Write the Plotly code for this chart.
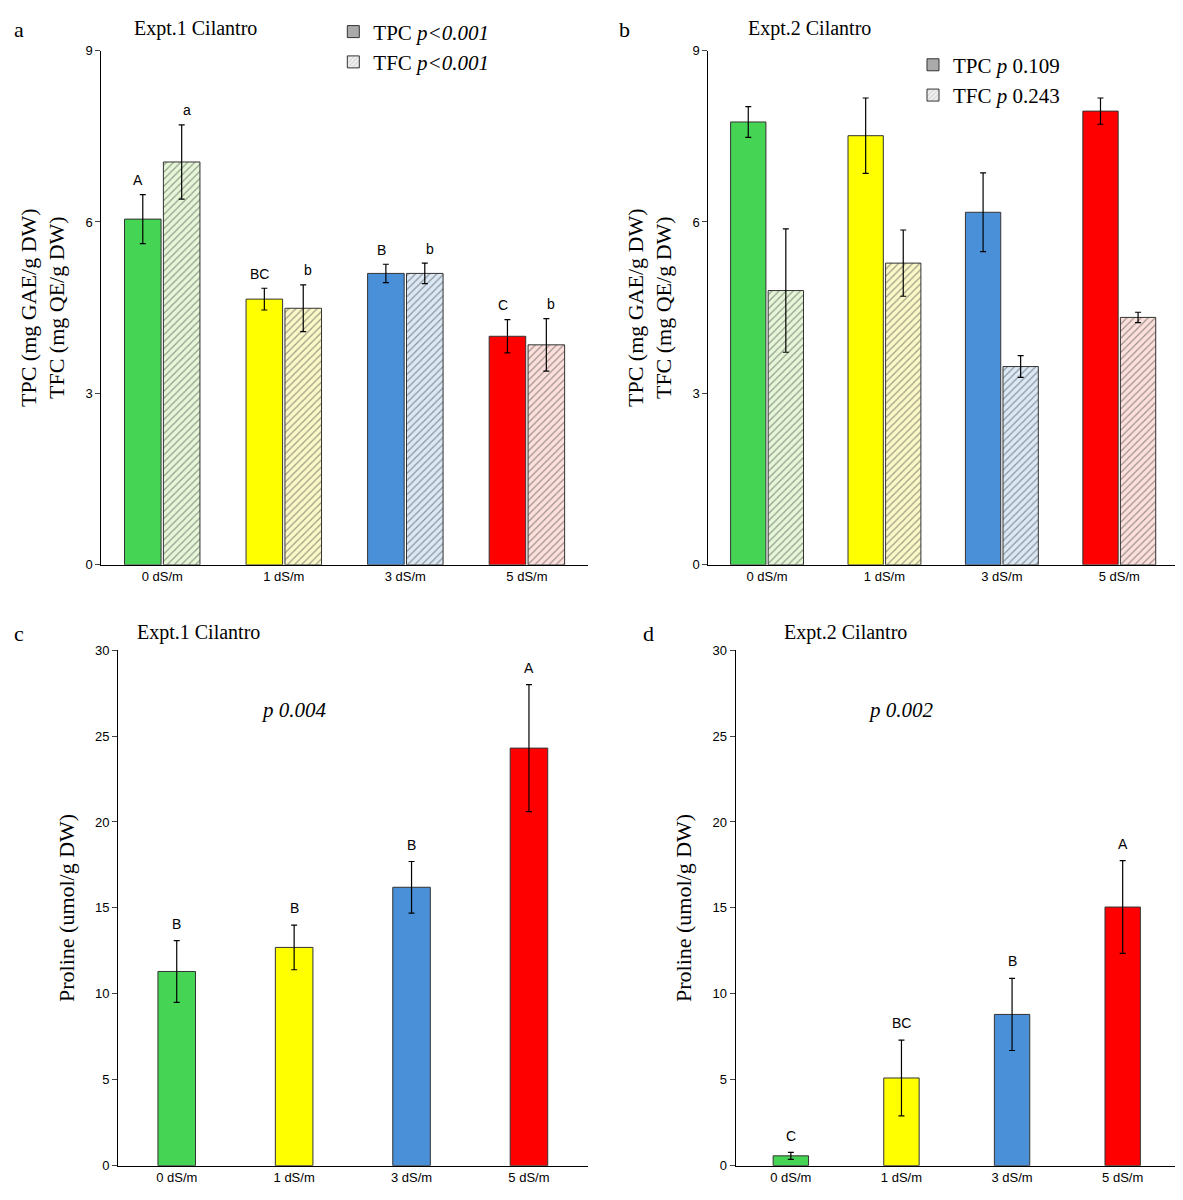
import plotly.graph_objects as go
from plotly.subplots import make_subplots

cats = ["0 dS/m", "1 dS/m", "3 dS/m", "5 dS/m"]
colors = ["#46d455", "#ffff00", "#4a90d9", "#ff0000"]
tints = ["#e6f7d8", "#fbf8c8", "#dbe8f5", "#fde0dc"]

# Expt.1 TPC / TFC
a_tpc = [6.05, 4.65, 5.10, 4.00]
a_tpc_err = [0.43, 0.19, 0.16, 0.29]
a_tfc = [7.05, 4.49, 5.10, 3.85]
a_tfc_err = [0.65, 0.41, 0.18, 0.46]
a_tpc_lab = ["A", "BC", "B", "C"]
a_tfc_lab = ["a", "b", "b", "b"]

# Expt.2 TPC / TFC
b_tpc = [7.75, 7.51, 6.17, 7.94]
b_tpc_err = [0.27, 0.66, 0.69, 0.23]
b_tfc = [4.80, 5.28, 3.47, 4.33]
b_tfc_err = [1.08, 0.58, 0.19, 0.09]

# Proline
c_pro = [11.3, 12.7, 16.2, 24.3]
c_pro_err = [1.8, 1.3, 1.5, 3.7]
c_lab = ["B", "B", "B", "A"]
d_pro = [0.57, 5.1, 8.8, 15.05]
d_pro_err = [0.2, 2.2, 2.1, 2.7]
d_lab = ["C", "BC", "B", "A"]

serif = "Liberation Serif"
sans = "Liberation Sans"

fig = make_subplots(rows=2, cols=2)


def err(v):
    return dict(type="data", array=v, color="black", thickness=1.2, width=3)


def pair(row, col, tpc, tpce, tfc, tfce):
    fig.add_trace(go.Bar(x=cats, y=tpc, error_y=err(tpce), offsetgroup="1",
                         marker=dict(color=colors, line=dict(color="#333", width=1)),
                         showlegend=False), row=row, col=col)
    fig.add_trace(go.Bar(x=cats, y=tfc, error_y=err(tfce), offsetgroup="2",
                         marker=dict(color=tints, line=dict(color="#333", width=1),
                                     pattern=dict(shape="/", fgcolor=colors, bgcolor=tints,
                                                  size=5, solidity=0.25)),
                         showlegend=False), row=row, col=col)


def single(row, col, vals, errs):
    fig.add_trace(go.Bar(x=cats, y=vals, error_y=err(errs), width=0.32,
                         marker=dict(color=colors, line=dict(color="#333", width=1)),
                         showlegend=False), row=row, col=col)


pair(1, 1, a_tpc, a_tpc_err, a_tfc, a_tfc_err)
pair(1, 2, b_tpc, b_tpc_err, b_tfc, b_tfc_err)
single(2, 1, c_pro, c_pro_err)
single(2, 2, d_pro, d_pro_err)

# legend entries
legs = [("legend", "TPC <i>p<0.001</i>", "TFC <i>p<0.001</i>", "x", "y"),
        ("legend2", "TPC <i>p</i> 0.109", "TFC <i>p</i> 0.243", "x2", "y2")]
for lg, t1, t2, xa, ya in legs:
    fig.add_trace(go.Bar(x=[None], y=[None], name=t1, legend=lg, xaxis=xa, yaxis=ya,
                         marker=dict(color="#aaaaaa", line=dict(color="#333", width=1))))
    fig.add_trace(go.Bar(x=[None], y=[None], name=t2, legend=lg, xaxis=xa, yaxis=ya,
                         marker=dict(color="#eeeeee", line=dict(color="#333", width=1),
                                     pattern=dict(shape="/", fgcolor="#888", size=4))))

ann = []
def letters(xref, yref, vals, errs, labs, shift, off):
    for i, (v, e, t) in enumerate(zip(vals, errs, labs)):
        ann.append(dict(x=i + shift, y=v + e + off, xref=xref, yref=yref, text=t,
                        showarrow=False, yanchor="bottom",
                        font=dict(family=sans, size=14, color="black")))

letters("x", "y", a_tpc, a_tpc_err, a_tpc_lab, -0.2, 0.08)
letters("x", "y", a_tfc, a_tfc_err, a_tfc_lab, 0.2, 0.08)
letters("x3", "y3", c_pro, c_pro_err, c_lab, 0, 0.4)
letters("x4", "y4", d_pro, d_pro_err, d_lab, 0, 0.4)

for t, x, y in [("a", 0.003, 1.0), ("b", 0.515, 1.0), ("c", 0.003, 0.49), ("d", 0.535, 0.49)]:
    ann.append(dict(x=x, y=y, xref="paper", yref="paper", text=t, showarrow=False,
                    xanchor="left", yanchor="top", font=dict(family=serif, size=22, color="black")))
for t, x, y in [("Expt.1 Cilantro", 0.105, 1.0), ("Expt.2 Cilantro", 0.624, 1.0),
                ("Expt.1 Cilantro", 0.107, 0.49), ("Expt.2 Cilantro", 0.654, 0.49)]:
    ann.append(dict(x=x, y=y, xref="paper", yref="paper", text=t, showarrow=False,
                    xanchor="left", yanchor="top", font=dict(family=serif, size=20, color="black")))
ann.append(dict(x=1, y=26.5, xref="x3", yref="y3", text="<i>p 0.004</i>", showarrow=False,
                font=dict(family=serif, size=21, color="black")))
ann.append(dict(x=1, y=26.5, xref="x4", yref="y4", text="<i>p 0.002</i>", showarrow=False,
                font=dict(family=serif, size=21, color="black")))

fig.update_layout(
    width=1183, height=1200, plot_bgcolor="white", paper_bgcolor="white",
    margin=dict(l=0, r=0, t=0, b=0),
    barmode="group", bargap=0.36, bargroupgap=0.06,
    annotations=ann,
    font=dict(color="black"),
    legend=dict(x=0.275, y=1.003, xanchor="left", yanchor="top", bgcolor="rgba(0,0,0,0)",
                font=dict(family=serif, size=21), itemwidth=30, tracegroupgap=0),
    legend2=dict(x=0.765, y=0.975, xanchor="left", yanchor="top", bgcolor="rgba(0,0,0,0)",
                 font=dict(family=serif, size=21), itemwidth=30, tracegroupgap=0),
    xaxis=dict(domain=[0.079, 0.49]), yaxis=dict(domain=[0.536, 0.97]),
    xaxis2=dict(domain=[0.592, 0.989]), yaxis2=dict(domain=[0.536, 0.97]),
    xaxis3=dict(domain=[0.093, 0.49]), yaxis3=dict(domain=[0.029, 0.464]),
    xaxis4=dict(domain=[0.615, 0.989]), yaxis4=dict(domain=[0.029, 0.464]),
)
fig.update_xaxes(showline=True, linecolor="black", linewidth=1, ticks="",
                 tickfont=dict(family=sans, size=13, color="black"))
fig.update_yaxes(showline=True, linecolor="black", linewidth=1, ticks="outside", ticklen=5,
                 showgrid=False, zeroline=False, tickfont=dict(family=sans, size=13, color="black"),
                 title_font=dict(family=serif, size=22, color="black"), title_standoff=14)
fig.update_yaxes(range=[0, 9], dtick=3, title_text="TPC (mg GAE/g DW)<br>TFC (mg QE/g DW)",
                 row=1, col=1)
fig.update_yaxes(range=[0, 9], dtick=3, title_text="TPC (mg GAE/g DW)<br>TFC (mg QE/g DW)",
                 row=1, col=2)
fig.update_yaxes(range=[0, 30], dtick=5, title_text="Proline (umol/g DW)", row=2, col=1)
fig.update_yaxes(range=[0, 30], dtick=5, title_text="Proline (umol/g DW)", row=2, col=2)

fig.write_html("out.html")
